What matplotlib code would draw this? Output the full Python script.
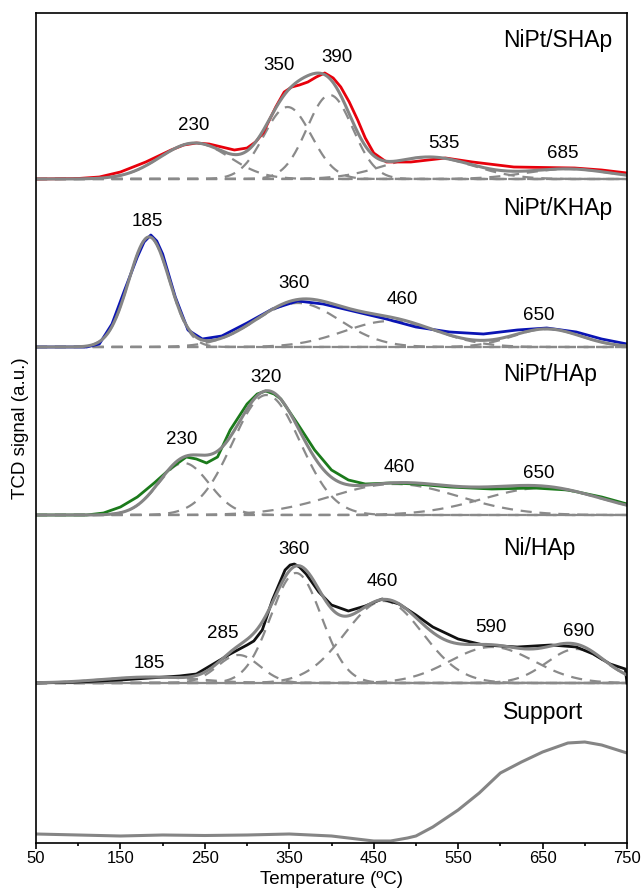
import numpy as np
import matplotlib.pyplot as plt

plt.rcParams['font.family'] = ['Liberation Sans', 'DejaVu Sans']

# panel names, colours and vertical offsets (a.u.)
names = ["NiPt/SHAp", "NiPt/KHAp", "NiPt/HAp", "Ni/HAp"]
colors = ["#e8000b", "#0a14b4", "#1b7a1b", "#111111"]
offsets = [664, 496, 328, 160]

# measured TPR profiles (temperature, signal above baseline)
shap_t = [50, 100, 125, 150, 180, 210, 225, 240, 255, 270, 285, 300, 310, 319, 327, 334, 344,
          353, 362, 372, 382, 392, 402, 411, 421, 431, 440, 450, 465, 494, 535, 567, 616,
          688, 720, 750]
shap_y = [0, 0.5, 2, 7, 17, 29, 34, 36, 35, 32, 29, 31, 37, 46, 60, 72, 87,
          92, 94, 97, 102, 106, 101, 92, 77, 59, 41, 26, 17, 17, 21, 17, 12,
          11, 9, 6]
khap_t = [50, 110, 125, 140, 155, 170, 178, 186, 193, 200, 215, 230, 247, 270, 300, 330,
          360, 390, 420, 465, 500, 540, 580, 620, 655, 690, 720, 750]
khap_y = [0, 0, 3, 23, 57, 90, 105, 112, 106, 93, 50, 17, 8, 11, 24, 38,
          46, 43, 37, 28, 20, 15, 13, 17, 19, 15, 8, 3]
hap_t = [50, 110, 130, 150, 170, 190, 210, 228, 240, 252, 265, 280, 300, 312, 322, 332,
         340, 360, 380, 400, 420, 440, 470, 500, 540, 590, 640, 680, 720, 750]
hap_y = [0, 0, 2, 8, 18, 32, 47, 58, 56, 52, 58, 85, 111, 121, 124, 121,
         116, 91, 65, 45, 35, 31, 32, 31, 28, 26, 27, 25, 18, 11]
nihap_t = [50, 100, 150, 185, 220, 240, 260, 280, 300, 308, 318, 330, 345, 351, 356, 362,
           370, 385, 400, 420, 440, 460, 480, 500, 520, 550, 580, 620, 660, 690, 710, 730,
           748, 750]
nihap_y = [0, 1, 3, 5, 7, 9, 19, 29, 38, 42, 53, 83, 113, 118, 119, 116,
           109, 91, 78, 72, 77, 84, 79, 68, 56, 44, 38, 36, 38, 36, 29, 19,
           14, 0]

# gaussian deconvolution: centre, height, width
shap_peaks = [(238, 36, 41), (348, 72, 28), (398, 84, 27), (515, 22, 52), (680, 10, 50)]
khap_peaks = [(184, 110, 24), (360, 44, 50), (470, 26, 55), (655, 18, 40)]
hap_peaks = [(225, 52, 30), (323, 120, 40), (475, 31, 75), (650, 27, 70)]
nihap_peaks = [(185, 6, 55), (290, 28, 25), (358, 110, 30), (462, 82, 46), (590, 36, 50), (690, 34, 35)]

# peak labels (text, temperature, height above baseline)
shap_lbl = [("230", 237, 53), ("350", 338, 114), ("390", 407, 122), ("535", 533, 36), ("685", 674, 25)]
khap_lbl = [("185", 182, 126), ("360", 356, 64), ("460", 484, 47), ("650", 645, 32)]
hap_lbl = [("230", 222, 76), ("320", 323, 137), ("460", 480, 48), ("650", 645, 42)]
nihap_lbl = [("185", 184, 20), ("285", 271, 49), ("360", 356, 133), ("460", 460, 101),
             ("590", 589, 55), ("690", 693, 51)]
title_h = [138, 138, 140, 134]

# support (no deconvolution)
sup_t = [50, 100, 150, 200, 250, 300, 350, 400, 430, 450, 470, 490, 500, 520, 550, 575,
         600, 625, 650, 680, 700, 720, 750]
sup_y = [9, 8, 7, 8, 7.5, 8, 9, 7, 4, 2, 2, 5, 7, 16, 33, 50, 70, 81, 91, 100, 101, 98, 90]

fig = plt.figure(figsize=(6.44, 8.90), dpi=100)
ax = fig.add_axes([36 / 644, 47 / 890, 591 / 644, 830 / 890])

grid = np.linspace(50, 750, 701)
dash_kw = dict(color="#8a8a8a", lw=1.6, ls=(0, (5, 3.5)))

data = [(shap_t, shap_y, shap_peaks, shap_lbl),
        (khap_t, khap_y, khap_peaks, khap_lbl),
        (hap_t, hap_y, hap_peaks, hap_lbl),
        (nihap_t, nihap_y, nihap_peaks, nihap_lbl)]

for i, (t, y, peaks, lbls) in enumerate(data):
    off = offsets[i]
    if i == 3:
        ax.plot([50, 750], [off, off], color="#8a8a8a", lw=1.6)
    ax.plot([50, 750], [off, off], **dash_kw)
    fit = np.zeros_like(grid)
    for c, h, w in peaks:
        g = h * np.exp(-(grid - c) ** 2 / (2 * w ** 2))
        fit += g
        ax.plot(grid, g + off, **dash_kw)
    ax.plot(t, np.array(y) + off, color=colors[i], lw=2)
    ax.plot(grid, fit + off, color="#858585", lw=2.2)
    for s, tx, hy in lbls:
        ax.text(tx, hy + off, s, ha="center", va="center", fontsize=13.5)
    ax.text(603, title_h[i] + off, names[i], ha="left", va="center", fontsize=16.5)

ax.plot(sup_t, sup_y, color="#858585", lw=2.2)
ax.text(603, 130, "Support", ha="left", va="center", fontsize=16.5)

ax.set_xlim(50, 750)
ax.set_ylim(0, 830)
ax.set_yticks([])
ax.set_xticks(np.arange(50, 751, 100))
ax.set_xticks(np.arange(100, 751, 100), minor=True)
ax.tick_params(axis="x", which="major", direction="out", length=4, width=1.2, labelsize=12, pad=2)
ax.tick_params(axis="x", which="minor", direction="out", length=2, width=1.2)
for sp in ax.spines.values():
    sp.set_linewidth(1.2)
ax.set_xlabel("Temperature (ºC)", fontsize=13.5, labelpad=3)
ax.set_ylabel("TCD signal (a.u.)", fontsize=13.5, labelpad=5)

fig.savefig("out.png", dpi=100)
